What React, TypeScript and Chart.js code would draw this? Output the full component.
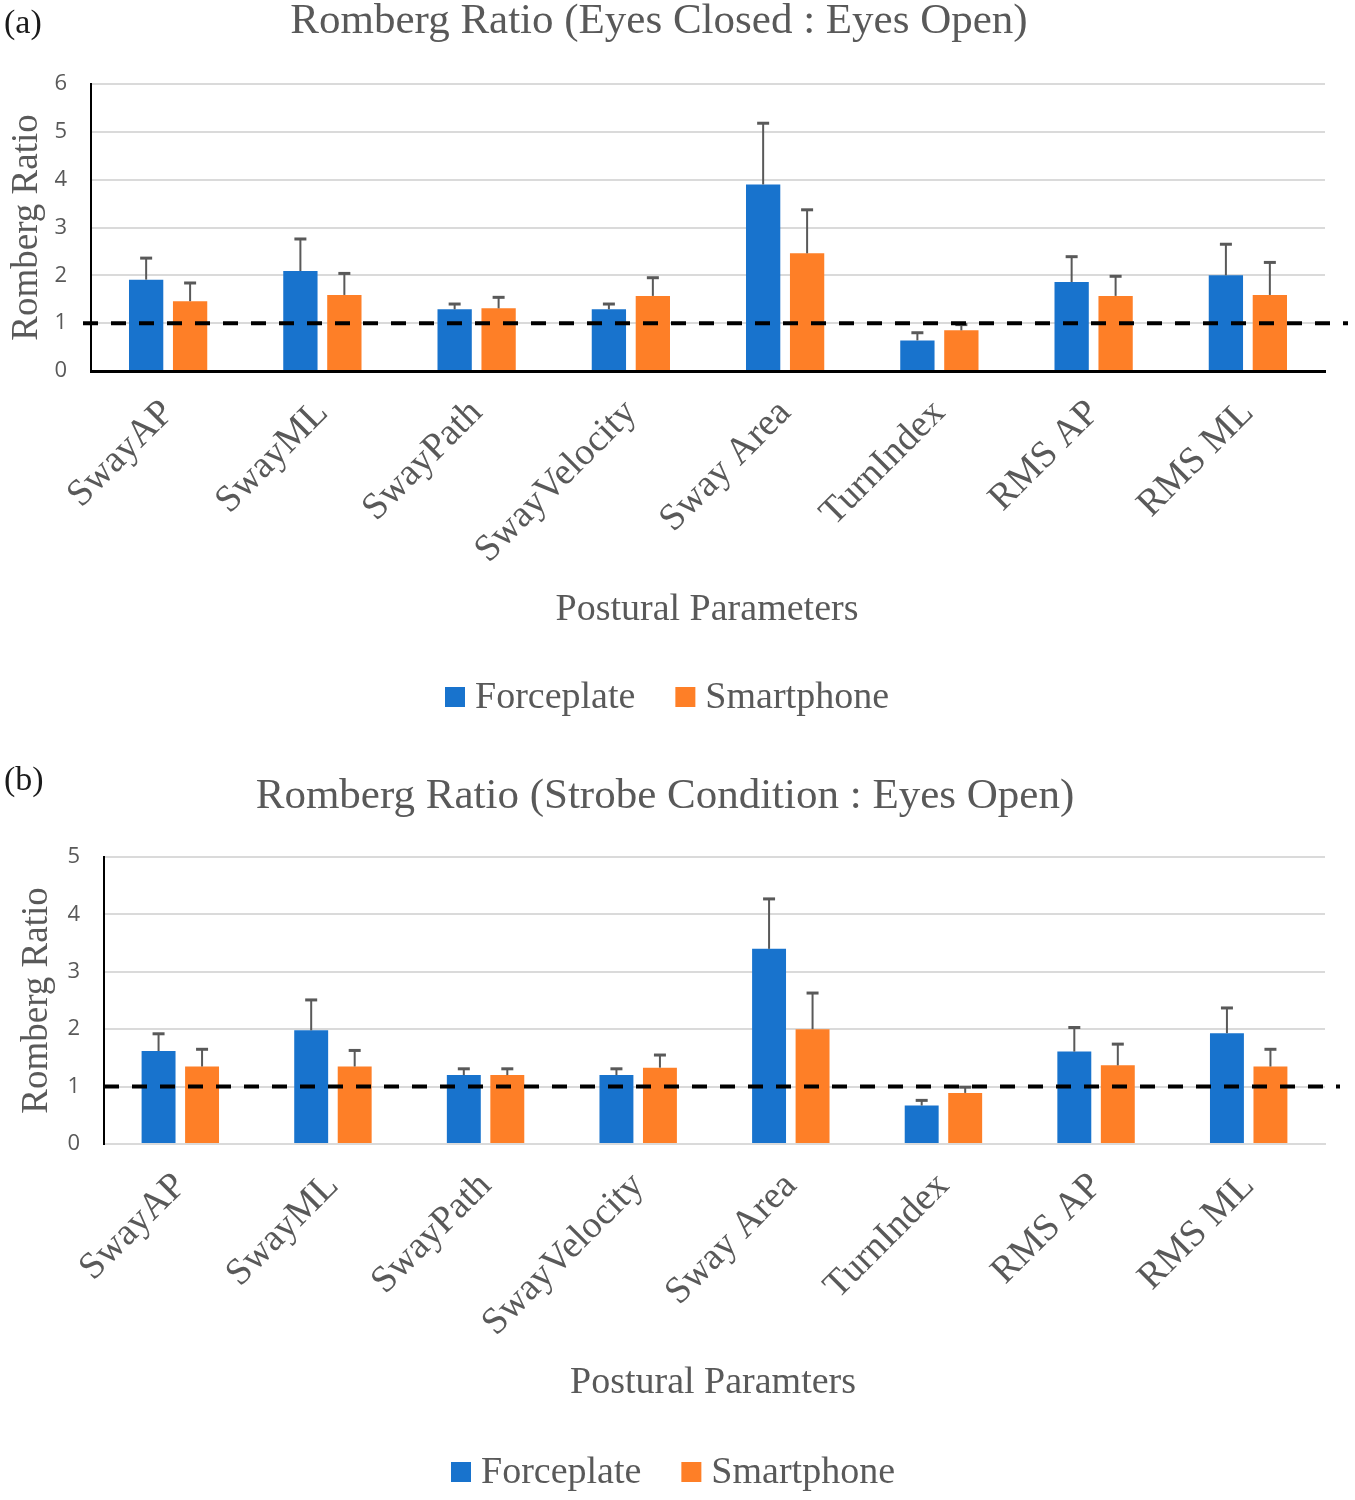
import React, { useEffect, useRef } from 'react';
import { Chart, registerables } from 'chart.js';

Chart.register(...registerables);

// ---------- data ----------
const categories = ['SwayAP', 'SwayML', 'SwayPath', 'SwayVelocity', 'Sway Area', 'TurnIndex', 'RMS AP', 'RMS ML'];
const seriesNames = ['Forceplate', 'Smartphone'];

// (a) Eyes Closed : Eyes Open
const forceplateClosed = [1.91, 2.09, 1.29, 1.29, 3.9, 0.64, 1.86, 2.0];
const forceplateClosedSD = [0.45, 0.67, 0.11, 0.11, 1.28, 0.16, 0.53, 0.65];
const smartphoneClosed = [1.46, 1.59, 1.31, 1.57, 2.46, 0.85, 1.57, 1.59];
const smartphoneClosedSD = [0.38, 0.45, 0.23, 0.38, 0.91, 0.12, 0.41, 0.68];

// (b) Strobe Condition : Eyes Open
const forceplateStrobe = [1.62, 1.98, 1.2, 1.2, 3.4, 0.67, 1.61, 1.93];
const forceplateStrobeSD = [0.3, 0.53, 0.11, 0.11, 0.87, 0.09, 0.42, 0.44];
const smartphoneStrobe = [1.35, 1.35, 1.2, 1.33, 2.0, 0.89, 1.37, 1.35];
const smartphoneStrobeSD = [0.3, 0.28, 0.11, 0.22, 0.63, 0.1, 0.37, 0.3];

const yMaxClosed = 6;
const yMaxStrobe = 5;
const referenceValue = 1;

// ---------- styles ----------
const BLUE = '#1873CD';
const ORANGE = '#FE7F27';
const GRAY_TEXT = '#595959';
const GRID = '#dadada';
const SERIF = '"Liberation Serif", serif';
const SANS = '"Open Sans", sans-serif';
const W = 1355;
const H = 750;

type Layout = {
  panel: string;
  labelY: number;
  title: string;
  titleX: number;
  titleY: number;
  xTitle: string;
  xTitleX: number;
  xTitleY: number;
  legendX: number;
  legendY: number;
  areaTop: number;
  areaBottom: number;
  areaLeft: number;
  areaRight: number;
  yTitlePad: number;
  refLeft: number;
  refRight: number;
  xBorderColor: string;
  xBorderWidth: number;
};

function makePlugin(L: Layout) {
  return {
    id: 'extras',
    afterDatasetsDraw(chart: any) {
      const { ctx, chartArea } = chart;
      const y = chart.scales.y;
      // error bars (upper only)
      chart.data.datasets.forEach((ds: any, di: number) => {
        const meta = chart.getDatasetMeta(di);
        meta.data.forEach((bar: any, i: number) => {
          const x = bar.x;
          const yTop = bar.y;
          const yErr = y.getPixelForValue(ds.data[i] + ds.sd[i]);
          ctx.save();
          ctx.strokeStyle = '#595959';
          ctx.lineWidth = 2;
          ctx.beginPath();
          ctx.moveTo(x, yTop);
          ctx.lineTo(x, yErr);
          ctx.stroke();
          ctx.lineWidth = 3;
          ctx.beginPath();
          ctx.moveTo(x - 6, yErr);
          ctx.lineTo(x + 6, yErr);
          ctx.stroke();
          ctx.restore();
        });
      });
      // dashed reference line
      const yRef = y.getPixelForValue(referenceValue);
      ctx.save();
      ctx.strokeStyle = '#000';
      ctx.lineWidth = 4;
      ctx.setLineDash([15, 13]);
      ctx.beginPath();
      ctx.moveTo(chartArea.left + L.refLeft, yRef);
      ctx.lineTo(chartArea.right + L.refRight, yRef);
      ctx.stroke();
      ctx.restore();
    },
    afterDraw(chart: any) {
      const { ctx } = chart;
      ctx.save();
      // panel label
      ctx.fillStyle = '#1a1a1a';
      ctx.font = `34px ${SERIF}`;
      ctx.textAlign = 'left';
      ctx.textBaseline = 'middle';
      ctx.fillText(L.panel, 4, L.labelY);
      // title
      ctx.fillStyle = GRAY_TEXT;
      ctx.font = `43px ${SERIF}`;
      ctx.textAlign = 'center';
      ctx.fillText(L.title, L.titleX, L.titleY);
      // x title
      ctx.font = `38px ${SERIF}`;
      ctx.fillText(L.xTitle, L.xTitleX, L.xTitleY);
      // legend
      ctx.font = `38px ${SERIF}`;
      const items = chart.data.datasets.map((d: any) => ({ label: d.label, color: d.backgroundColor }));
      const box = 20;
      const gap = 10;
      const sep = 40;
      const widths = items.map((it: any) => ctx.measureText(it.label).width);
      let total = 0;
      widths.forEach((w: number, i: number) => {
        total += box + gap + w + (i < widths.length - 1 ? sep : 0);
      });
      let x = L.legendX - total / 2;
      items.forEach((it: any, i: number) => {
        ctx.fillStyle = it.color;
        ctx.fillRect(x, L.legendY - box / 2, box, box);
        x += box + gap;
        ctx.fillStyle = GRAY_TEXT;
        ctx.textAlign = 'left';
        ctx.fillText(it.label, x, L.legendY + 1);
        x += widths[i] + sep;
      });
      ctx.restore();
    },
  };
}

function Panel(props: {
  L: Layout;
  yMax: number;
  force: number[];
  forceSD: number[];
  phone: number[];
  phoneSD: number[];
}) {
  const ref = useRef<HTMLCanvasElement>(null);
  useEffect(() => {
    const { L } = props;
    const chart = new Chart(ref.current as HTMLCanvasElement, {
      type: 'bar',
      data: {
        labels: categories,
        datasets: [
          {
            label: seriesNames[0],
            data: props.force,
            sd: props.forceSD,
            backgroundColor: BLUE,
            categoryPercentage: 0.57,
            barPercentage: 0.78,
          } as any,
          {
            label: seriesNames[1],
            data: props.phone,
            sd: props.phoneSD,
            backgroundColor: ORANGE,
            categoryPercentage: 0.57,
            barPercentage: 0.78,
          } as any,
        ],
      },
      options: {
        animation: false,
        responsive: false,
        devicePixelRatio: 1,
        layout: { padding: { top: L.areaTop, right: W - L.areaRight, left: 0, bottom: 0 } },
        plugins: {
          legend: { display: false },
          title: { display: false },
          tooltip: { enabled: false },
        },
        scales: {
          x: {
            grid: { display: false },
            border: { display: true, color: L.xBorderColor, width: L.xBorderWidth },
            ticks: {
              autoSkip: false,
              minRotation: 45,
              maxRotation: 45,
              padding: 12,
              color: GRAY_TEXT,
              font: { family: SERIF, size: 38 },
            },
            afterFit: (s: any) => {
              s.height = H - L.areaBottom;
            },
          },
          y: {
            min: 0,
            max: props.yMax,
            ticks: { stepSize: 1, padding: 24, color: GRAY_TEXT, font: { family: SANS, size: 22 } },
            grid: { color: GRID, lineWidth: 2, drawTicks: false },
            border: { display: true, color: '#000', width: 2 },
            title: {
              display: true,
              text: 'Romberg Ratio',
              color: GRAY_TEXT,
              font: { family: SERIF, size: 37, lineHeight: 1.2 },
              padding: { top: L.yTitlePad, bottom: 0 },
            },
            afterFit: (s: any) => {
              s.width = L.areaLeft;
            },
          },
        },
      } as any,
      plugins: [makePlugin(L)],
    });
    return () => chart.destroy();
  }, []);
  return <canvas ref={ref} width={W} height={H} style={{ display: 'block', width: W, height: H }} />;
}

const layoutA: Layout = {
  panel: '(a)',
  labelY: 24,
  title: 'Romberg Ratio (Eyes Closed : Eyes Open)',
  titleX: 659,
  titleY: 22,
  xTitle: 'Postural Parameters',
  xTitleX: 707,
  xTitleY: 610,
  legendX: 667,
  legendY: 697,
  areaTop: 84,
  areaBottom: 371,
  areaLeft: 91,
  areaRight: 1325,
  yTitlePad: 5,
  refLeft: -8,
  refRight: 23,
  xBorderColor: '#000',
  xBorderWidth: 3,
};

const layoutB: Layout = {
  panel: '(b)',
  labelY: 31,
  title: 'Romberg Ratio (Strobe Condition : Eyes Open)',
  titleX: 665,
  titleY: 47,
  xTitle: 'Postural Paramters',
  xTitleX: 713,
  xTitleY: 633,
  legendX: 673,
  legendY: 722,
  areaTop: 107,
  areaBottom: 394,
  areaLeft: 104,
  areaRight: 1325,
  yTitlePad: 15,
  refLeft: 0,
  refRight: 15,
  xBorderColor: GRID,
  xBorderWidth: 2,
};

export default function App() {
  return (
    <div style={{ position: 'absolute', left: 0, top: 0, width: W, height: 2 * H, background: '#fff' }}>
      <Panel L={layoutA} yMax={yMaxClosed} force={forceplateClosed} forceSD={forceplateClosedSD} phone={smartphoneClosed} phoneSD={smartphoneClosedSD} />
      <Panel L={layoutB} yMax={yMaxStrobe} force={forceplateStrobe} forceSD={forceplateStrobeSD} phone={smartphoneStrobe} phoneSD={smartphoneStrobeSD} />
    </div>
  );
}
